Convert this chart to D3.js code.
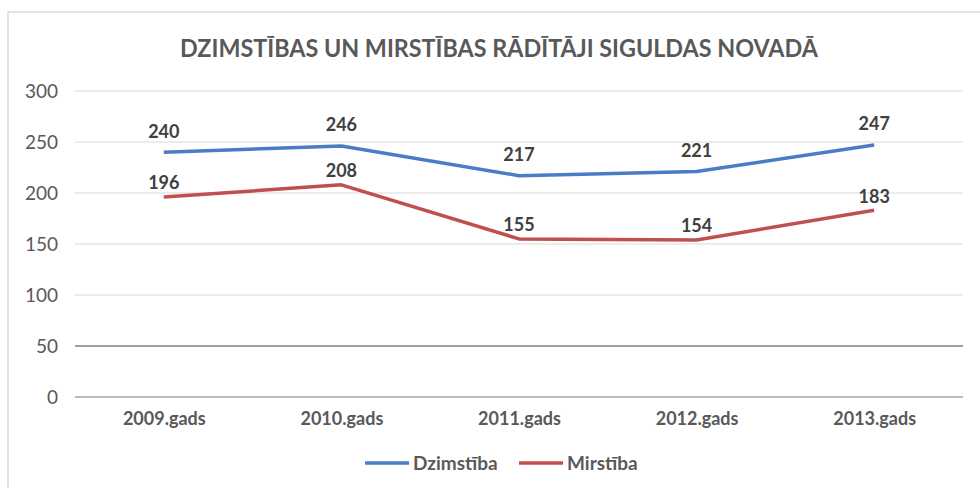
<!DOCTYPE html>
<html>
<head>
<meta charset="utf-8">
<script src="https://cdn.jsdelivr.net/npm/d3@7"></script>
<style>
  body { margin: 0; background: #fff; }
  text { font-family: Lato, "Open Sans", sans-serif; }
</style>
</head>
<body>
<script>
// data
var years = ["2009.gads", "2010.gads", "2011.gads", "2012.gads", "2013.gads"];
var dzimstiba = [240, 246, 217, 221, 247];
var mirstiba = [196, 208, 155, 154, 183];
var yTicks = [0, 50, 100, 150, 200, 250, 300];
var seriesNames = ["Dzimstība", "Mirstība"];
var colors = ["#4A7DC4", "#C0504D"];

var W = 980, H = 488;
var svg = d3.select("body").append("svg")
  .attr("width", W)
  .attr("height", H);

// chart area border
svg.append("rect")
  .attr("x", 8).attr("y", 12)
  .attr("width", 990).attr("height", 500)
  .attr("fill", "#fff")
  .attr("stroke", "#d9d9d9")
  .attr("stroke-width", 1.5);

svg.append("text")
  .attr("x", 499).attr("y", 57)
  .attr("text-anchor", "middle")
  .attr("textLength", 638)
  .attr("lengthAdjust", "spacingAndGlyphs")
  .style("font-size", "24px")
  .style("font-weight", "bold")
  .style("fill", "#595959")
  .text("DZIMSTĪBAS UN MIRSTĪBAS RĀDĪTĀJI SIGULDAS NOVADĀ");

var x = d3.scalePoint().domain(years).range([75, 963]).padding(0.5);
var y = d3.scaleLinear().domain([0, 300]).range([397, 91]);

// grid lines
svg.selectAll(".grid")
  .data(yTicks)
  .enter()
  .append("line")
  .attr("class", "grid")
  .attr("x1", 75).attr("x2", 963)
  .attr("y1", d => y(d)).attr("y2", d => y(d))
  .attr("stroke", d => d == 50 ? "#a0a0a0" : (d == 0 ? "#a6a6a6" : "#d9d9d9"))
  .attr("stroke-width", d => d == 50 ? 2 : (d == 0 ? 1.5 : 1));

// y axis labels
var yAxis = d3.axisLeft(y).tickValues(yTicks).tickSize(0).tickPadding(0);
var ya = svg.append("g").attr("transform", "translate(58,0)").call(yAxis);
ya.select(".domain").remove();
ya.selectAll("text")
  .style("font-size", "19px")
  .style("font-family", "Lato, sans-serif")
  .style("fill", "#595959");

// x axis labels
var xAxis = d3.axisBottom(x).tickSize(0).tickPadding(0);
var xa = svg.append("g").attr("transform", "translate(0,412)").call(xAxis);
xa.select(".domain").remove();
xa.selectAll("text")
  .style("font-size", "18px")
  .style("font-weight", "bold")
  .style("font-family", "Lato, sans-serif")
  .style("fill", "#595959");

var line = d3.line()
  .x((d, i) => x(years[i]))
  .y(d => y(d));

var allSeries = [dzimstiba, mirstiba];
var labelOffset = [-21, -14];

allSeries.forEach(function(s, k) {
  svg.append("path")
    .datum(s)
    .attr("d", line)
    .attr("fill", "none")
    .attr("stroke", colors[k])
    .attr("stroke-width", 3.5)
    .attr("stroke-linejoin", "round");

  svg.selectAll(".lbl" + k)
    .data(s)
    .enter()
    .append("text")
    .attr("class", "lbl" + k)
    .attr("x", (d, i) => x(years[i]))
    .attr("y", d => y(d) + labelOffset[k])
    .attr("dy", "0.35em")
    .attr("text-anchor", "middle")
    .style("font-size", "18px")
    .style("font-weight", "bold")
    .style("fill", "#404040")
    .text(d => d);
});

// legend
var legend = svg.append("g").attr("transform", "translate(365,463)");
var legX = [0, 154];
seriesNames.forEach(function(n, k) {
  legend.append("line")
    .attr("x1", legX[k]).attr("x2", legX[k] + 44)
    .attr("y1", 0).attr("y2", 0)
    .attr("stroke", colors[k])
    .attr("stroke-width", 3.5);
  legend.append("text")
    .attr("x", legX[k] + 48)
    .attr("y", 0)
    .attr("dy", "0.35em")
    .style("font-size", "19px")
    .style("font-weight", "bold")
    .style("fill", "#595959")
    .text(n);
});
</script>
</body>
</html>
